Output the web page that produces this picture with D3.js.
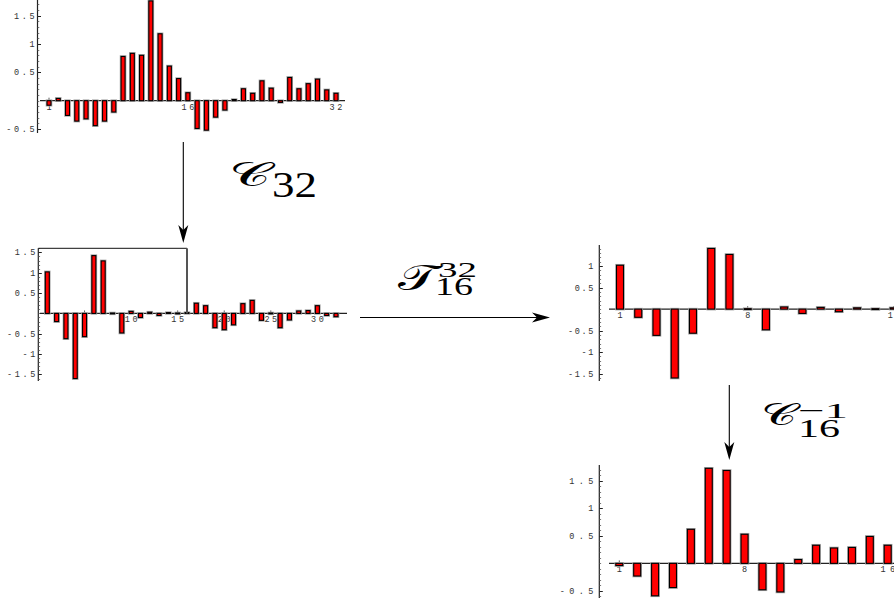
<!DOCTYPE html>
<html><head><meta charset="utf-8">
<script src="https://cdn.jsdelivr.net/npm/d3@7"></script>
<style>body{margin:0;background:#fff}svg{display:block}</style>
</head><body><svg id="c" width="894" height="605"></svg>
<script>
// ---- data ----
const signal32 = [-0.08,0.04,-0.26,-0.36,-0.32,-0.44,-0.36,-0.2,0.78,0.835,0.8,1.76,1.18,0.61,0.39,0.14,-0.49,-0.52,-0.29,-0.165,0.02,0.21,0.13,0.35,0.22,-0.03,0.41,0.21,0.3,0.38,0.19,0.13];
const coeffs32 = [1.02,-0.2,-0.62,-1.6,-0.57,1.42,1.29,0.01,-0.48,0.05,-0.1,0.03,-0.05,0.02,0.01,0.02,0.25,0.19,-0.35,-0.4,-0.28,0.24,0.32,-0.17,0.01,-0.35,-0.16,0.06,0.07,0.19,-0.05,-0.08];
const coeffs16 = [1.02,-0.19,-0.61,-1.6,-0.56,1.41,1.27,0.01,-0.48,0.05,-0.1,0.04,-0.06,0.03,0.01,0.03];
const signal16 = [-0.04,-0.23,-0.59,-0.44,0.62,1.73,1.69,0.53,-0.48,-0.52,0.07,0.33,0.28,0.29,0.49,0.33];
const yTicks1 = [-0.5,0.5,1,1.5];
const xTicks1 = [1,16,32];
const yTicks2 = [-1.5,-1,-0.5,0.5,1,1.5];
const xTicks2 = [5,10,15,20,25,30];
const yTicks3 = [-1.5,-1,-0.5,0.5,1];
const xTicks3 = [1,8,16];
const yTicks4 = [-0.5,0.5,1,1.5];
const xTicks4 = [1,8,16];
const boxCount = 16, boxHeight = 1.6;

const svg = d3.select('#c');
const MONO = 'Liberation Mono, DejaVu Sans Mono, monospace';

function drawChart(values, yTicks, xTicks, cfg) {
  const g = svg.append('g');
  const n = values.length;
  const x = d3.scaleLinear().domain([1, cfg.xLast]).range(cfg.xRange);
  const y = d3.scaleLinear().domain(cfg.yDomain).range(cfg.yRange);
  const idx = d3.range(1, n + 1);
  // y axis line
  g.append('line').attr('x1', cfg.axisX).attr('x2', cfg.axisX)
    .attr('y1', cfg.yRange[0]).attr('y2', cfg.yRange[1])
    .attr('stroke', '#222').attr('stroke-width', 1.2);
  // minor ticks
  const minor = d3.range(Math.ceil(cfg.yDomain[0] * 10), Math.floor(cfg.yDomain[1] * 10) + 1).map(v => v / 10);
  g.selectAll('.mn').data(minor).join('line')
    .attr('x1', cfg.axisX).attr('x2', cfg.axisX + 1.8)
    .attr('y1', d => Math.round(y(d)) + 0.5).attr('y2', d => Math.round(y(d)) + 0.5)
    .attr('stroke', '#555').attr('stroke-width', 0.8);
  g.selectAll('.mj').data(yTicks).join('line')
    .attr('x1', cfg.axisX).attr('x2', cfg.axisX + 3.5)
    .attr('y1', d => Math.round(y(d)) + 0.5).attr('y2', d => Math.round(y(d)) + 0.5)
    .attr('stroke', '#222').attr('stroke-width', 1);
  g.selectAll('.yl').data(yTicks).join('text')
    .attr('x', cfg.axisX - cfg.labelGap + cfg.ls)
    .attr('y', d => y(d) + 3)
    .attr('text-anchor', 'end')
    .attr('font-family', MONO).attr('font-size', cfg.fs)
    .attr('letter-spacing', cfg.ls)
    .attr('fill', '#333')
    .text(d => String(d));
  // x labels
  g.selectAll('.xl').data(xTicks).join('text')
    .attr('x', d => x(d) + cfg.ls / 2)
    .attr('y', y(0) + cfg.xLabelDy)
    .attr('text-anchor', 'middle')
    .attr('font-family', MONO).attr('font-size', cfg.fs)
    .attr('letter-spacing', cfg.ls)
    .attr('fill', '#333')
    .text(d => String(d));
  g.selectAll('.xt').data(xTicks).join('line')
    .attr('x1', d => x(d)).attr('x2', d => x(d))
    .attr('y1', y(0)).attr('y2', y(0) - 3)
    .attr('stroke', '#333').attr('stroke-width', 0.8);
  // x axis line
  g.append('line').attr('x1', cfg.xAxis[0]).attr('x2', cfg.xAxis[1])
    .attr('y1', y(0)).attr('y2', y(0))
    .attr('stroke', '#222').attr('stroke-width', 1.2);
  // bars: halo then bar
  const bw = cfg.barW;
  const top = d => Math.min(y(d), y(0));
  const h = d => Math.max(Math.abs(y(d) - y(0)), 0.8);
  g.selectAll('.halo').data(values).join('rect')
    .attr('x', (d, i) => x(idx[i]) - bw / 2)
    .attr('y', d => top(d))
    .attr('width', bw).attr('height', d => h(d))
    .attr('fill', 'none').attr('stroke', '#a8a8a8').attr('stroke-width', 2.6);
  g.selectAll('.bar').data(values).join('rect')
    .attr('x', (d, i) => x(idx[i]) - bw / 2)
    .attr('y', d => top(d))
    .attr('width', bw).attr('height', d => h(d))
    .attr('fill', '#ff0000').attr('stroke', '#000').attr('stroke-width', 1.1);
  return {x, y};
}

const c1 = drawChart(signal32, yTicks1, xTicks1, {
  xLast: 32, xRange: [49, 336], yDomain: [-0.57, 1.776], yRange: [133, 0],
  axisX: 37.5, xAxis: [40, 345], barW: 4, fs: 8.5, ls: 2.6, labelGap: 3, xLabelDy: 9
});
const c2 = drawChart(coeffs32, yTicks2, xTicks2, {
  xLast: 32, xRange: [47.3, 336], yDomain: [-1.66, 1.6], yRange: [381, 248.3],
  axisX: 38.3, xAxis: [40, 347], barW: 4, fs: 8.5, ls: 2.6, labelGap: 3, xLabelDy: 9
});
const c3 = drawChart(coeffs16, yTicks3, xTicks3, {
  xLast: 8, xRange: [620, 747.7], yDomain: [-1.67, 1.49], yRange: [381, 245],
  axisX: 599.3, xAxis: [609, 894], barW: 7, fs: 8.5, ls: 1.6, labelGap: 6, xLabelDy: 9
});
const c4 = drawChart(signal16, yTicks4, xTicks4, {
  xLast: 16, xRange: [619.3, 887.7], yDomain: [-0.63, 1.79], yRange: [598, 465],
  axisX: 599.3, xAxis: [609, 894], barW: 7, fs: 8.5, ls: 4.4, labelGap: 6, xLabelDy: 9
});

// selection box in chart 2
svg.append('path')
  .attr('d', `M${38.3},${c2.y(boxHeight)}H${c2.x(boxCount)}`)
  .attr('stroke', '#111').attr('stroke-width', 1).attr('fill', 'none');
svg.append('path')
  .attr('d', `M${c2.x(boxCount)},${c2.y(boxHeight)}V${c2.y(0)}`)
  .attr('stroke', '#555').attr('stroke-width', 2).attr('fill', 'none');

// arrows
function arrow(x1, y1, x2, y2) {
  const ang = Math.atan2(y2 - y1, x2 - x1);
  const L = 18, W = 5, N = 13;
  const bx = x2 - L * Math.cos(ang), by = y2 - L * Math.sin(ang);
  const nx = x2 - N * Math.cos(ang), ny = y2 - N * Math.sin(ang);
  const px = -Math.sin(ang), py = Math.cos(ang);
  svg.append('line').attr('x1', x1).attr('y1', y1).attr('x2', nx).attr('y2', ny)
    .attr('stroke', '#000').attr('stroke-width', 1.1);
  svg.append('path')
    .attr('d', `M${x2},${y2}L${bx + px * W},${by + py * W}Q${nx},${ny} ${nx},${ny}L${bx - px * W},${by - py * W}Z`)
    .attr('fill', '#000');
}
arrow(183.3, 142, 183.3, 243);
arrow(360, 317.5, 550, 317.5);
arrow(729.3, 385, 729.3, 460);

// math labels
const SERIF = 'Liberation Serif, DejaVu Serif, serif';
function mtext(t, x, y, fs, w, fam, style) {
  const el = svg.append('text').attr('x', x).attr('y', y)
    .attr('font-family', fam || SERIF).attr('font-size', fs)
    .attr('font-style', style || 'normal').attr('fill', '#000').text(t);
  if (w) el.attr('textLength', w).attr('lengthAdjust', 'spacingAndGlyphs');
  return el;
}
mtext('𝒞', 229, 186, 34, 42, 'DejaVu Serif, Noto Sans, serif');
mtext('32', 272, 197, 35, 45);
mtext('𝒯', 398, 290, 36, 40, 'DejaVu Serif, Noto Sans, serif');
mtext('32', 438, 277, 22, 39);
mtext('16', 435, 295, 25, 38);
mtext('𝒞', 761, 425, 30, 36, 'DejaVu Serif, Noto Sans, serif');
mtext('−1', 798, 418, 22, 50);
mtext('16', 798, 437, 25, 42);
</script></body></html>
